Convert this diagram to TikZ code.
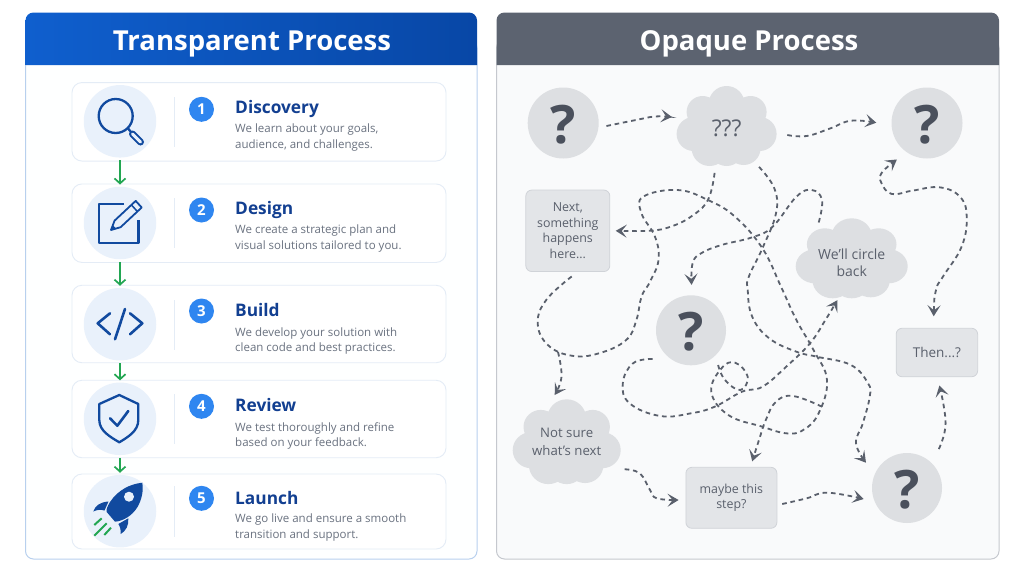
\documentclass[tikz,border=0pt]{standalone}
\usepackage{fontspec}
\setmainfont{Open Sans}
\usepackage{tikz}
\usetikzlibrary{calc,arrows.meta}

\definecolor{bluehead}{HTML}{0F5FCE}
\definecolor{bluedeep}{HTML}{0847A6}
\definecolor{bluemark}{HTML}{114A9F}
\definecolor{bluetitle}{HTML}{123F91}
\definecolor{bluebadge}{HTML}{2F86F0}
\definecolor{blueline}{HTML}{B8D0EE}
\definecolor{bluecircle}{HTML}{E9F1FB}
\definecolor{cardline}{HTML}{E4ECF6}
\definecolor{flowgreen}{HTML}{22A652}
\definecolor{bodygrey}{HTML}{6A7280}
\definecolor{greyhead}{HTML}{5C6370}
\definecolor{greyline}{HTML}{C5C8CE}
\definecolor{greypanel}{HTML}{F9FAFB}
\definecolor{greyfill}{HTML}{DDDFE2}
\definecolor{greybox}{HTML}{E3E5E8}
\definecolor{greyedge}{HTML}{D0D3D8}
\definecolor{greytext}{HTML}{5A606C}
\definecolor{greymark}{HTML}{4A505C}

\begin{document}
\begin{tikzpicture}[x=1pt, y=-1pt,
	panel/.style={rounded corners=8pt, line width=1pt},
	headtext/.style={text=white, inner sep=0pt, anchor=base, font=\fontsize{27.5}{30}\selectfont\bfseries},
	card/.style={draw=cardline, fill=white, rounded corners=10pt, line width=0.9pt, minimum width=374pt},
	iconbg/.style={circle, fill=bluecircle, minimum size=72.5pt, inner sep=0pt},
	badge/.style={circle, fill=bluebadge, text=white, minimum size=25pt, inner sep=0pt, font=\fontsize{15}{15}\selectfont\bfseries},
	steptitle/.style={anchor=base west, inner sep=0pt, text=bluetitle, font=\fontsize{17.3}{20}\selectfont\bfseries},
	stepbody/.style={anchor=west, inner sep=0pt, align=left, text=bodygrey, font=\fontsize{11.5}{15.2}\selectfont},
	sep/.style={draw=cardline, line width=0.8pt},
	flow/.style={draw=flowgreen, line width=1.7pt, shorten <=2.5pt, shorten >=2pt, -{Straight Barb[length=5pt,width=11pt]}},
	ink/.style={draw=bluemark, line width=2.3pt, line cap=round, line join=round},
	qmark/.style={circle, fill=greyfill, inner sep=0pt, text=greymark, text height=41pt, text depth=0pt, font=\fontsize{53}{53}\selectfont\bfseries},
	greybx/.style={draw=greyedge, fill=greybox, rounded corners=6pt, line width=0.8pt, align=center, text=greytext, inner sep=0pt, font=\fontsize{12.4}{15.5}\selectfont},
	cloudtext/.style={inner sep=0pt, minimum width=102pt, align=center, text=greytext, font=\fontsize{13.2}{17.5}\selectfont},
	mess/.style={draw=greytext, line width=1.8pt, dash pattern=on 4.6pt off 3.8pt},
	wiggly/.style={mess, -{Stealth[length=11pt,width=13pt,inset=5pt]}},
	puffs/.style={smooth, tension=0.7},
	cloudblob/.pic={
		\fill[greyfill] (0,0) circle (30) (0,-22) circle (18) (-24,-14) circle (16) (24,-14) circle (16)
			(-33,8) circle (17) (33,8) circle (17) (-17,22) circle (18) (17,22) circle (17) (0,23) circle (17);
	}]
	\useasboundingbox (0,0) rectangle (1024,576);

	% left panel
	\draw[panel, draw=blueline, fill=white!97!bluecircle] (25.5,40) rectangle (477,559);
	\path[left color=bluehead, right color=bluedeep] (25.5,65) [rounded corners=8pt] -- (25.5,12.5) -- (477,12.5) [sharp corners] -- (477,65) -- cycle;
	\node (H1) at (252,50) [headtext] {Transparent Process};

	\node (C1) at (259,121.8) [card, minimum height=78.5pt] {};
	\node (C2) at (259,223.2) [card, minimum height=78.5pt] {};
	\node (C3) at (259,324) [card, minimum height=77.5pt] {};
	\node (C4) at (259,419) [card, minimum height=77.5pt] {};
	\node (C5) at (259,511.5) [card, minimum height=75pt] {};

	\node (I1) at (120,121.3) [iconbg] {};
	\node (I2) at (120,223) [iconbg] {};
	\node (I3) at (120,324.2) [iconbg] {};
	\node (I4) at (120,418.8) [iconbg] {};
	\node (I5) at (120,511.2) [iconbg] {};

	\draw[flow] (I1) -- (I2);
	\draw[flow] (I2) -- (I3);
	\draw[flow] (I3) -- (I4);
	\draw[flow] (I4) -- (I5);

	\draw[sep] (174.5,97) -- (174.5,147);
	\draw[sep] (174.5,198) -- (174.5,248);
	\draw[sep] (174.5,300) -- (174.5,350);
	\draw[sep] (174.5,394) -- (174.5,444);
	\draw[sep] (174.5,486) -- (174.5,537);

	\node (N1) at (201.5,109.3) [badge] {1};
	\node (N2) at (201.5,210) [badge] {2};
	\node (N3) at (201.5,311) [badge] {3};
	\node (N4) at (201.5,406.3) [badge] {4};
	\node (N5) at (201.5,498.3) [badge] {5};

	\node (S1) at (235,113.5) [steptitle] {Discovery};
	\node (S2) at (235,214.5) [steptitle] {Design};
	\node (S3) at (235,316) [steptitle] {Build};
	\node (S4) at (235,411) [steptitle] {Review};
	\node (S5) at (235,504) [steptitle] {Launch};

	\node (D1) at (235,137.6) [stepbody] {We learn about your goals,\\audience, and challenges.};
	\node (D2) at (235,238.6) [stepbody] {We create a strategic plan and\\visual solutions tailored to you.};
	\node (D3) at (235,340.8) [stepbody] {We develop your solution with\\clean code and best practices.};
	\node (D4) at (235,435.6) [stepbody] {We test thoroughly and refine\\based on your feedback.};
	\node (D5) at (235,527.6) [stepbody] {We go live and ensure a smooth\\transition and support.};

	% icons
	\draw[ink] (115.7,116) circle (17);
	\draw[ink] (127.8,128.2) -- (131,132);
	\draw[bluemark, line width=7pt, line cap=round] (132.5,134) -- (140.5,142);
	\draw[bluecircle, line width=3pt, line cap=round] (132.5,134) -- (140.5,142);

	\draw[ink, line cap=butt] (124,204) -- (99,204) -- (99,243) -- (138.5,243) -- (138.5,220);
	\draw[ink, line width=1.8pt] (111,230) -- (114.6,220.6) -- (135.7,200.9) -- (141.7,207.5) -- (120.6,227.2) -- cycle;
	\draw[ink, line width=1.5pt] (131.4,204.9) -- (137.4,211.5);
	\fill[bluemark] (111,230) -- (112.6,225) -- (116,228.4) -- cycle;

	\draw[ink, line width=2.6pt] (110,313.3) -- (97.7,323.3) -- (110,334.3);
	\draw[ink, line width=2.6pt] (130,313.3) -- (142.3,323.3) -- (130,334.3);
	\draw[ink, line width=2.6pt] (125,309) -- (115,339.3);

	\draw[ink] (119.3,395) -- (138.3,404) -- (138.3,420) .. controls (138.3,431) and (128,437) .. (119.3,442.3)
		.. controls (110.5,437) and (99.3,431) .. (99.3,420) -- (99.3,404) -- cycle;
	\draw[ink, line width=2.6pt] (110,418.3) -- (117.3,425.7) -- (128.3,411);

	\fill[bluemark] (142.3,482.7) .. controls (130,484) and (118,490) .. (110,502) .. controls (107,507) and (106,510) .. (106.7,512)
		-- (115,521.7) .. controls (123,521) and (132,516) .. (137.5,507) .. controls (142,499) and (143.5,491) .. (142.3,482.7) -- cycle;
	\fill[bluecircle] (129,496.7) circle (5);
	\fill[bluemark] (108.5,501.5) .. controls (100,502) and (95,506) .. (93.3,511.5) .. controls (97,509.5) and (101,509.5) .. (104.5,510.5) -- cycle;
	\fill[bluemark] (128.3,518.3) .. controls (129,525) and (126,531) .. (120.7,534) .. controls (121,530) and (120,526) .. (118.3,524) -- cycle;
	\draw[flowgreen, line width=2pt] (94.3,525) -- (101.7,518.3);
	\draw[flowgreen, line width=2pt] (94.3,535.7) -- (106.7,523.3);
	\draw[flowgreen, line width=2pt] (104.3,535) -- (111,527.7);

	% right panel
	\draw[panel, draw=greyline, fill=greypanel] (496.5,40) rectangle (999,559);
	\path[fill=greyhead] (496.5,65) [rounded corners=8pt] -- (496.5,12.5) -- (999,12.5) [sharp corners] -- (999,65) -- cycle;
	\node (H2) at (749,50) [headtext] {Opaque Process};

	\node (Q1) at (563.2,123) [qmark, minimum size=71pt] {?};
	\node (Q2) at (927,123) [qmark, minimum size=71pt] {?};
	\node (Q3) at (691,330.3) [qmark, minimum size=70pt] {?};
	\node (Q4) at (907,488) [qmark, minimum size=70pt] {?};

	\pic at (726.6,126) {cloudblob};
	\pic[xscale=1.12, yscale=1] at (851.7,258.3) {cloudblob};
	\pic[xscale=1.08, yscale=1.06] at (566.7,441.7) {cloudblob};
	\node (Cl1) at (726.6,128.7) [cloudtext, minimum height=76pt, font=\fontsize{23}{26}\selectfont] {???};
	\node (Cl2) at (851.7,262.5) [cloudtext, minimum width=114pt, minimum height=72pt, font=\fontsize{14}{17.5}\selectfont] {We’ll circle\\back};
	\node (Cl3) at (566.7,441.7) [cloudtext, minimum width=110pt, minimum height=87pt] {Not sure\\what’s next};

	\node (B1) at (567.8,230.8) [greybx, minimum width=84pt, minimum height=81.5pt] {Next,\\something\\happens\\here...};
	\node (T1) at (936.9,352.5) [greybx, minimum width=81.5pt, minimum height=48.5pt, font=\fontsize{13.5}{16}\selectfont] {Then...?};
	\node (M1) at (731.4,497.8) [greybx, minimum width=91pt, minimum height=61pt] {maybe this\\step?};

	\coordinate (Fork) at (558,352);
	\coordinate (Hook) at (822,406.7);
	\coordinate (Tail) at (718.1,365);

	% must be a mess, that is the point
	\draw[wiggly] plot[puffs] coordinates {($(Q1.east)+(7.5,3)$) (636,120) (655,116.5) ($(Cl1.west)+(-3.5,-11.7)$)};
	\draw[wiggly] plot[puffs] coordinates {($(Cl1.east)+(9.5,6.3)$) (806.7,136) (830.5,128.3) (851,120.7) ($(Q2.west)+(-15,-.3)$)};
	\draw[wiggly] plot[puffs] coordinates {($(Cl1.south)+(-12,6)$) (707.9,200) (690.9,216.7) (670.5,226.7) (650,230.7) ($(B1.east)+(5.5,0)$)};
	\draw[wiggly] plot[puffs] coordinates {($(Cl1.south)+(32.4,0)$) (774.3,188.3) (776,213.3) (762.4,248.3) (748.8,276.7) (747.7,290) (752.2,316.7) (769.2,338.3) (796.4,351.7) (816.9,356.7) (850.9,365) (868,383.3) (869.7,396.7) (862.8,423.3) (856,443.3) ($(Q4.west)+(-5.8,-25.3)$)};
	\draw[mess] plot[puffs] coordinates {($(B1.south)+(3.9,4.5)$) (546.2,300) (537.7,323.3) (547.9,345) (571.7,355.7) (599,353.3) (626.2,340) (636.4,320) (641.5,296.7) (650,281.7) (658.5,260) (655,236.7) (641.5,213.3) (643.2,196.7) (677.3,190) (707.9,200) (735,216.7) (762.4,248.3) (781,286.7) (796.4,320) (813.5,350) (827,380) (818.6,413.3) (803.2,430) (786.2,433.3) (762.4,426.7) (728.3,415) (711.3,391.7) (721.5,368.3) (735.2,362.7) (747.7,376.7) (740.3,390) (725,380) (Tail)};
	\draw[wiggly] plot[puffs] coordinates {(Fork) (561.5,376.7) ($(Cl3.north)+(-12,-3)$)};
	\draw[wiggly] plot[puffs] coordinates {($(Q3.west)+(-3.2,28.7)$) (633,363.3) (622.8,383.3) (629.6,403.3) (660.2,416) (690.9,413.3) (714.7,406.7) (742,391.7) (762.4,386.7) (786.2,366.7) (810,343.3) (825.4,320) ($(Cl2.south)+(-14.4,1.5)$)};
	\draw[wiggly] plot[puffs] coordinates {($(Cl2.north)+(-33,-3.8)$) (822,200) (811.8,190) (796.4,196.7) (772.6,226.7) (752.2,237.3) (721.5,245) (701.1,253.3) (692.6,263.3) ($(Q3.north)+(.6,-10.3)$)};
	\draw[wiggly] plot[puffs] coordinates {(Hook) (793,396) (776,401.7) (765.8,420) (759,440) ($(M1.north)+(20.8,-5.6)$)};
	\draw[mess, {Stealth[length=11pt,width=13pt,inset=5pt]}-{Stealth[length=11pt,width=13pt,inset=5pt]}] plot[puffs] coordinates {($(T1.north)+(-3.2,-11.6)$) (936,290) (942.9,276.7) (961.6,246.7) (966.7,216.7) (959.9,196.7) (939.4,187.3) (912.2,190.7) (891.8,194) (881.6,183.3) (881.6,173) ($(Q2.south)+(-30.1,.8)$)};
	\draw[wiggly] plot[puffs] coordinates {($(Q4.north)+(31.8,-3.7)$) (945.6,423.3) ($(T1.south)+(2.5,8.3)$)};
	\draw[wiggly] plot[puffs] coordinates {($(Cl3.east)+(2.8,27.6)$) (639.8,473.3) (650,490) (656.8,498.3) ($(M1.west)+(-6.9,2.2)$)};
	\draw[wiggly] plot[puffs] coordinates {($(M1.east)+(4.9,6.2)$) (806.7,498.3) (827.1,492.7) ($(Q4.west)+(-8.1,11)$)};
\end{tikzpicture}
\end{document}
